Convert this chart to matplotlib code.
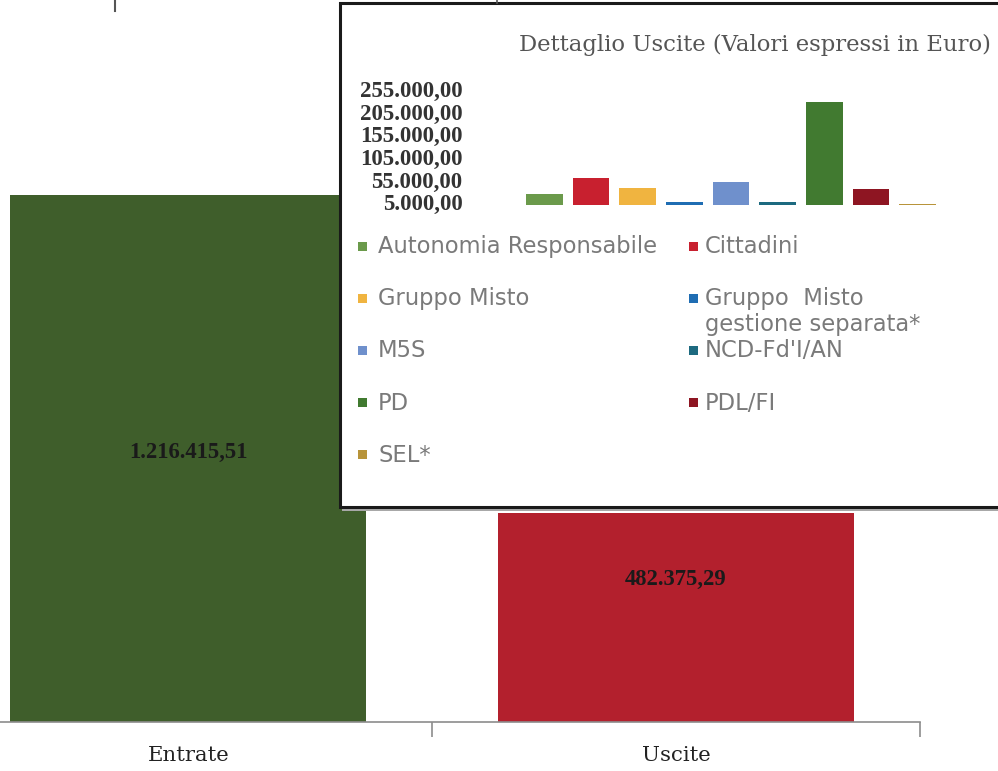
import matplotlib.pyplot as plt
from matplotlib.patches import Rectangle
from matplotlib.lines import Line2D

W, H = 998, 771

# main chart
categories = ['Entrate', 'Uscite']
totals = [1216415.51, 482375.29]
total_labels = ['1.216.415,51', '482.375,29']
total_colors = ['#3f5e2b', '#b3202d']

# inset: dettaglio uscite
groups = ['Autonomia Responsabile', 'Cittadini', 'Gruppo Misto',
          'Gruppo  Misto\ngestione separata*', 'M5S', "NCD-Fd'I/AN",
          'PD', 'PDL/FI', 'SEL*']
uscite = [22500, 59000, 36500, 4500, 50500, 4500, 227000, 34000, 2000]
group_colors = ['#6b9a4b', '#c8202f', '#f0b440', '#1f6db3', '#6f90cc',
                '#1d6a80', '#417a30', '#8e1522', '#b8943a']
yticks = [5000, 55000, 105000, 155000, 205000, 255000]
ytick_labels = ['5.000,00', '55.000,00', '105.000,00', '155.000,00',
                '205.000,00', '255.000,00']


def fx(x):
    return x / W


def fy(y):
    return 1 - y / H


fig = plt.figure(figsize=(W / 100, H / 100), dpi=100)

ax = fig.add_axes([0, fy(722), 920 / W, 722 / H])
ax.bar(range(len(totals)), totals, width=0.73, color=total_colors)
ax.set_xlim(-0.386, 1.5)
ax.set_ylim(0, totals[0] * 722 / 527)
for sp in ['top', 'right', 'left']:
    ax.spines[sp].set_visible(False)
ax.spines['bottom'].set_color('#8c8c8c')
ax.spines['bottom'].set_linewidth(1.2)
ax.set_yticks([])
ax.set_xticks([0.5, 1.5])
ax.set_xticklabels([])
ax.tick_params(axis='x', which='major', length=11, width=1.2, color='#8c8c8c')
ax.set_xticks([0, 1], minor=True)
ax.set_xticklabels(categories, minor=True, fontsize=15.3, family='DejaVu Serif', color='#222222')
ax.tick_params(axis='x', which='minor', length=0, pad=17)

label_pos = [0.512, 0.68]
for i, (v, lab) in enumerate(zip(totals, total_labels)):
    ax.text(i, v * label_pos[i], lab, ha='center', va='center', fontsize=16.3,
            family='Liberation Serif', fontweight='bold', color='#1a1a1a')

# inset box with shadow
shadow = Rectangle((fx(342), fy(511)), 700 / W, (511 - 6) / H, transform=fig.transFigure,
                   facecolor='#a8a8a8', edgecolor='none', zorder=1)
box = Rectangle((fx(340), fy(507)), 700 / W, (507 - 3) / H, transform=fig.transFigure,
                facecolor='white', edgecolor='#1a1a1a', linewidth=2.2, zorder=1.1)
fig.add_artist(shadow)
fig.add_artist(box)

ax2 = fig.add_axes([fx(521), fy(204.5), 420 / W, 115.5 / H], zorder=3)
ax2.set_facecolor('none')
ax2.bar(range(len(uscite)), uscite, width=0.79, color=group_colors)
ax2.set_xlim(-0.5, len(uscite) - 0.5)
ax2.set_ylim(0, 255000)
for sp in ax2.spines.values():
    sp.set_visible(False)
ax2.set_xticks([])
ax2.set_yticks(yticks)
ax2.set_yticklabels(ytick_labels, fontsize=16.5, family='Liberation Serif',
                    fontweight='bold', color='#333333')
ax2.tick_params(axis='y', length=0, pad=42)

fig.text(fx(519), fy(45), 'Dettaglio Uscite (Valori espressi in Euro)', ha='left', va='center',
         fontsize=16.4, family='DejaVu Serif', color='#555555', zorder=4)

# legend in two columns, row-major like the original
for i, (lab, col) in enumerate(zip(groups, group_colors)):
    r, c = divmod(i, 2)
    yc = 246 + 52.2 * r
    xm = [358, 689][c]
    xt = [378, 705][c]
    fig.add_artist(Rectangle((fx(xm), fy(yc + 4.5)), 9 / W, 9 / H, transform=fig.transFigure,
                             facecolor=col, edgecolor='none', zorder=4))
    fig.text(fx(xt), fy(yc - 11), lab, ha='left', va='top', fontsize=16.3,
             family='DejaVu Sans', color='#7a7a7a', zorder=4, linespacing=1.15)

# scan fragments at the top edge
fig.add_artist(Line2D([fx(115), fx(115)], [fy(0), fy(11)], color='#555555', lw=1.5))
fig.add_artist(Line2D([fx(497), fx(497)], [fy(0), fy(3)], color='#555555', lw=1.2, zorder=2))

fig.savefig('out.png', dpi=100, facecolor='white')
